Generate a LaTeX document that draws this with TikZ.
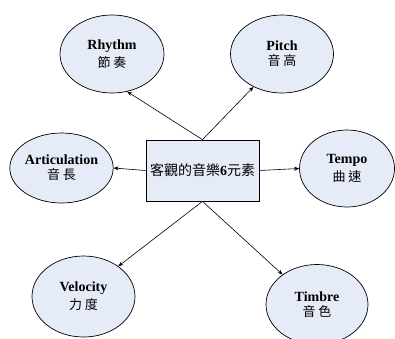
\documentclass[tikz,border=0pt]{standalone}
\usepackage{fontspec}
\setmainfont{Liberation Serif}
\newfontfamily\cjk{Noto Sans CJK TC}
\usetikzlibrary{shapes.geometric,arrows.meta}
\definecolor{bubble}{RGB}{230,236,247}
\tikzset{
  elem/.style={ellipse, draw=black, line width=0.7pt, fill=bubble, inner sep=0pt, align=center},
  core/.style={rectangle, draw=black, line width=0.7pt, fill=bubble, inner sep=0pt,
    minimum width=113pt, minimum height=61pt},
  link/.style={line width=0.6pt, -{Stealth[length=5pt,width=4pt]}},
}
\newcommand{\elabel}[2]{{\fontsize{14}{19}\selectfont\bfseries #1}\\[3pt]{\fontsize{13}{15}\selectfont\cjk #2}}
\begin{document}
\begin{tikzpicture}[x=1pt,y=-1pt]
  \useasboundingbox (0,0) rectangle (395,338);
  \clip (0,0) rectangle (395,338);
  \fill[white] (0,0) rectangle (395,338);
  % central box
  \node[core] (box) at (202.5,170.5) {\fontsize{14}{16}\selectfont\cjk 客觀的音樂\textbf{\rmfamily 6}元素};
  % the six elements
  \node[elem, minimum width=104pt, minimum height=78pt] (rhythm) at (112,54) {\elabel{Rhythm}{節 奏}};
  \node[elem, minimum width=103pt, minimum height=78pt] (pitch) at (282,54) {\elabel{Pitch}{音 高}};
  \node[elem, minimum width=103pt, minimum height=70pt] (artic) at (61.5,168) {\elabel{Articulation}{音 長}};
  \node[elem, minimum width=95pt, minimum height=77pt] (tempo) at (347,168.5) {\elabel{Tempo}{曲 速}};
  \node[elem, minimum width=103pt, minimum height=81pt] (velo) at (83.5,296.5) {\elabel{Velocity}{力 度}};
  \node[elem, minimum width=102pt, minimum height=80pt] (timbre) at (317,304.5) {\elabel{Timbre}{音 色}};
  % connectors
  \draw[link] (box.north) -- (rhythm.-68);
  \draw[link] (box.north) -- (pitch.-131);
  \draw[link] (box.west) -- (artic.east);
  \draw[link] (box.east) -- (tempo.west);
  \draw[link] (box.south) -- (velo.41);
  \draw[link] (box.south) -- (timbre.139);
\end{tikzpicture}
\end{document}
